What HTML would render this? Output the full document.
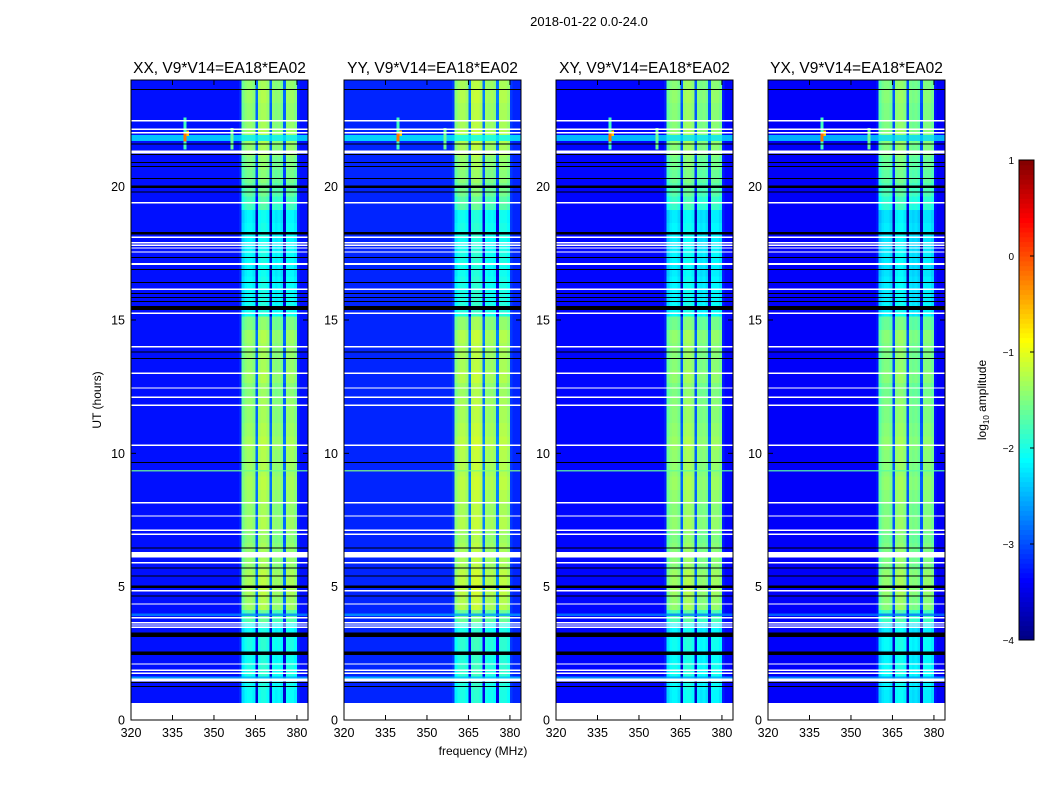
<!DOCTYPE html>
<html><head><meta charset="utf-8">
<style>
html,body{margin:0;padding:0;background:#fff;}
svg{display:block;font-family:"Liberation Sans","DejaVu Sans",sans-serif;}
</style></head>
<body>
<svg id="fig" width="1050" height="800" viewBox="0 0 1050 800">
<text x="589" y="26" font-size="13" text-anchor="middle">2018-01-22 0.0-24.0</text>
<text x="483" y="755" font-size="12" text-anchor="middle">frequency (MHz)</text>
<text transform="translate(101,400) rotate(-90)" font-size="12" text-anchor="middle">UT (hours)</text>
<g id="panels"></g>
<g id="cbar"></g>
<text transform="translate(986,400) rotate(-90)" font-size="12" text-anchor="middle">log<tspan font-size="8" dy="3">10</tspan><tspan dy="-3"> amplitude</tspan></text>
</svg>
<script>
// ---- data ----
const panelTitles = ["XX, V9*V14=EA18*EA02","YY, V9*V14=EA18*EA02","XY, V9*V14=EA18*EA02","YX, V9*V14=EA18*EA02"];
const panelOffset = [0, 0.1, -0.05, -0.1];
// log10 amplitude per 1 MHz channel, 320..383 MHz
const freqProfile = [
-3.3,-3.3,-3.3,-3.3,-3.3,-3.3,-3.3,-3.3,-3.3,-3.3,
-3.3,-3.3,-3.3,-3.3,-3.3,-3.3,-3.3,-3.3,-3.3,-3.3,
-3.3,-3.3,-3.3,-3.3,-3.3,-3.3,-3.3,-3.3,-3.3,-3.3,
-3.3,-3.3,-3.3,-3.3,-3.3,-3.3,-3.3,-3.3,-3.3,-3.2,
-1.6,-1.45,-1.4,-1.4,-1.5,-2.9,-1.35,-1.3,-1.3,-1.4,
-2.9,-1.45,-1.5,-1.45,-1.55,-2.9,-1.4,-1.4,-1.4,-1.5,
-3.2,-3.3,-3.3,-3.3];
const bandChannels = [40,41,42,43,44,45,46,47,48,49,50,51,52,53,54,55,56,57,58,59];
// band strength offset per half-hour row, rows start at 0.64 h
const rowStart = 0.64;
const rowStep = 0.5;
const bandRow = [
-0.7,-0.65,-0.6,-0.65,-0.6,-0.7,-0.3,0.05,0.1,0.1,
0.0,0.0,-0.05,0.05,0.0,0.05,0.1,0.05,0.05,0.1,
0.05,0.0,0.0,-0.05,0.05,0.0,0.0,0.05,-0.1,-0.65,
-0.7,-0.7,-0.75,-0.7,-0.75,-0.7,-0.75,-0.4,-0.25,-0.15,
-0.1,0.0,0.05,0.0,0.0,0.05,0.0];
// broadband RFI lines: hour, thickness (h), log amplitude
const rfiHours = [21.82, 9.35, 3.95, 1.6];
const rfiWidth = [0.22, 0.05, 0.1, 0.08];
const rfiValue = [-2.2, -1.6, -2.7, -2.5];
// flagged rows: hour, thickness (h), colour (0 white, 1 black)
const flagHours = [23.65,22.47,22.16,22.02,21.6,21.3,21.2,20.9,20.75,20.3,20.0,19.8,19.4,18.25,18.1,17.9,17.8,17.7,17.55,17.35,17.1,16.9,16.4,16.15,16.0,15.85,15.7,15.45,15.25,14.0,13.8,13.55,13.0,12.45,12.1,11.8,10.3,9.65,8.15,7.65,7.12,6.97,6.45,6.2,5.9,5.7,5.4,5.0,4.85,4.65,4.35,3.83,3.65,3.56,3.48,3.2,2.5,2.1,1.87,1.75,1.5,1.4,1.25];
const flagWidth = [0.04,0.06,0.06,0.06,0.04,0.12,0.04,0.04,0.04,0.04,0.1,0.04,0.06,0.1,0.05,0.05,0.05,0.05,0.05,0.04,0.06,0.04,0.04,0.06,0.04,0.04,0.04,0.14,0.06,0.06,0.04,0.04,0.05,0.05,0.05,0.05,0.05,0.04,0.05,0.05,0.05,0.05,0.04,0.2,0.05,0.04,0.04,0.1,0.05,0.04,0.05,0.05,0.05,0.05,0.05,0.16,0.12,0.05,0.05,0.05,0.12,0.04,0.04];
const flagColor = [1,0,0,0,1,0,1,1,1,1,1,1,0,1,0,0,0,0,0,1,0,1,1,0,1,1,1,1,0,0,1,1,0,0,0,0,0,1,0,0,0,0,1,0,0,1,1,1,0,1,0,0,0,0,0,1,1,0,0,0,0,1,1];
// narrow RFI spikes: freq (MHz), hour from, hour to, value
const spikeFreq = [339, 339, 356, 340];
const spikeFrom = [21.4, 21.7, 21.4, 21.9];
const spikeTo = [22.6, 22.0, 22.2, 22.1];
const spikeValue = [-1.8, -0.2, -1.6, -0.6];
const xTicks = [320,335,350,365,380];
const yTicks = [0,5,10,15,20];
const cbTicks = [1,0,-1,-2,-3,-4];
// ---- layout ----
const NS="http://www.w3.org/2000/svg";
const panelX=[131,344,556,768], PW=177, PT=80, PB=720;
const F0=320,F1=384,T0=0,T1=24;
function jet(v){let t=(v+4)/5;t=Math.max(0,Math.min(1,t));
 const c=x=>Math.round(255*Math.max(0,Math.min(1,1.5-Math.abs(4*t-x))));
 return `rgb(${c(3)},${c(2)},${c(1)})`;}
function mk(tag,attrs,parent){const e=document.createElementNS(NS,tag);for(const k in attrs)e.setAttribute(k,attrs[k]);parent.appendChild(e);return e;}
const panels=document.getElementById('panels');
panelX.forEach((x0,p)=>{
 const xs=f=>x0+(f-F0)/(F1-F0)*PW;
 const ys=h=>PB-(h-T0)/(T1-T0)*(PB-PT);
 const g=mk('g',{},panels);
 
 
 mk('rect',{x:x0,y:PT,width:PW,height:PB-PT,fill:'#fff'},g);
 const hm=mk('g',{'shape-rendering':'crispEdges'},g);
 
 
 bandRow.forEach((bo,r)=>{
  const h0=rowStart+r*rowStep, h1=Math.min(T1,h0+rowStep);
  freqProfile.forEach((fv,c)=>{
   const v=fv+(bandChannels.includes(c)?bo:0)+panelOffset[p];
   const e=mk('rect',{x:xs(F0+c).toFixed(2),y:ys(h1).toFixed(2),width:(xs(F0+c+1)-xs(F0+c)+0.3).toFixed(2),height:(ys(h0)-ys(h1)+0.3).toFixed(2),fill:jet(v)},hm);
   
   
  });
 });
 rfiHours.forEach((h,i)=>{
  const e=mk('rect',{x:x0,y:ys(h+rfiWidth[i]/2),width:PW,height:ys(h-rfiWidth[i]/2)-ys(h+rfiWidth[i]/2),fill:jet(rfiValue[i]+panelOffset[p]),opacity:0.8},hm);
  
  
 });
 spikeFreq.forEach((f,i)=>{
  const e=mk('rect',{x:xs(f),y:ys(spikeTo[i]),width:xs(f+1)-xs(f),height:ys(spikeFrom[i])-ys(spikeTo[i]),fill:jet(spikeValue[i])},hm);
  
  
 });
 flagHours.forEach((h,i)=>{
  const e=mk('rect',{x:x0,y:ys(h+flagWidth[i]/2),width:PW,height:Math.max(1,ys(h-flagWidth[i]/2)-ys(h+flagWidth[i]/2)),fill:flagColor[i]?'#000':'#fff'},hm);
  
  
 });
 mk('rect',{x:x0,y:PT,width:PW,height:PB-PT,fill:'none',stroke:'#000','stroke-width':1},g);
 const t=mk('text',{x:x0+PW/2,y:73,'font-size':15.5,'text-anchor':'middle'},g);
 t.textContent=panelTitles[p];
 
 
 xTicks.forEach(v=>{
  const x=xs(v);
  mk('line',{x1:x,x2:x,y1:PB,y2:PB-5,stroke:'#000'},g);
  mk('line',{x1:x,x2:x,y1:PT,y2:PT+5,stroke:'#000'},g);
  const l=mk('text',{x:x,y:PB+17,'font-size':12.5,'text-anchor':'middle'},g);
  l.textContent=v;
  
  
 });
 yTicks.forEach(v=>{
  const y=ys(v);
  mk('line',{x1:x0,x2:x0+5,y1:y,y2:y,stroke:'#000'},g);
  mk('line',{x1:x0+PW,x2:x0+PW-5,y1:y,y2:y,stroke:'#000'},g);
  const l=mk('text',{x:x0-6,y:y+4.5,'font-size':12.5,'text-anchor':'end'},g);
  l.textContent=v;
  
  
 });
});
// colorbar
const cb=document.getElementById('cbar');
const CX=1019,CW=15,CT=160,CB=640;
const cys=v=>CB-(v+4)/5*(CB-CT);
for(let i=0;i<100;i++){const v0=-4+i*0.05;
 mk('rect',{x:CX,y:cys(v0+0.05),width:CW,height:cys(v0)-cys(v0+0.05)+0.5,fill:jet(v0+0.025)},cb);}
mk('rect',{x:CX,y:CT,width:CW,height:CB-CT,fill:'none',stroke:'#000'},cb);
cbTicks.forEach(v=>{const y=cys(v);
 mk('line',{x1:CX+CW-4,x2:CX+CW,y1:y,y2:y,stroke:'#000'},cb);
 const l=mk('text',{x:CX-5,y:y+4,'font-size':10,'text-anchor':'end'},cb);
 l.textContent=v<0?'\u2212'+(-v):v;
 
 
});
</script>
</body></html>
